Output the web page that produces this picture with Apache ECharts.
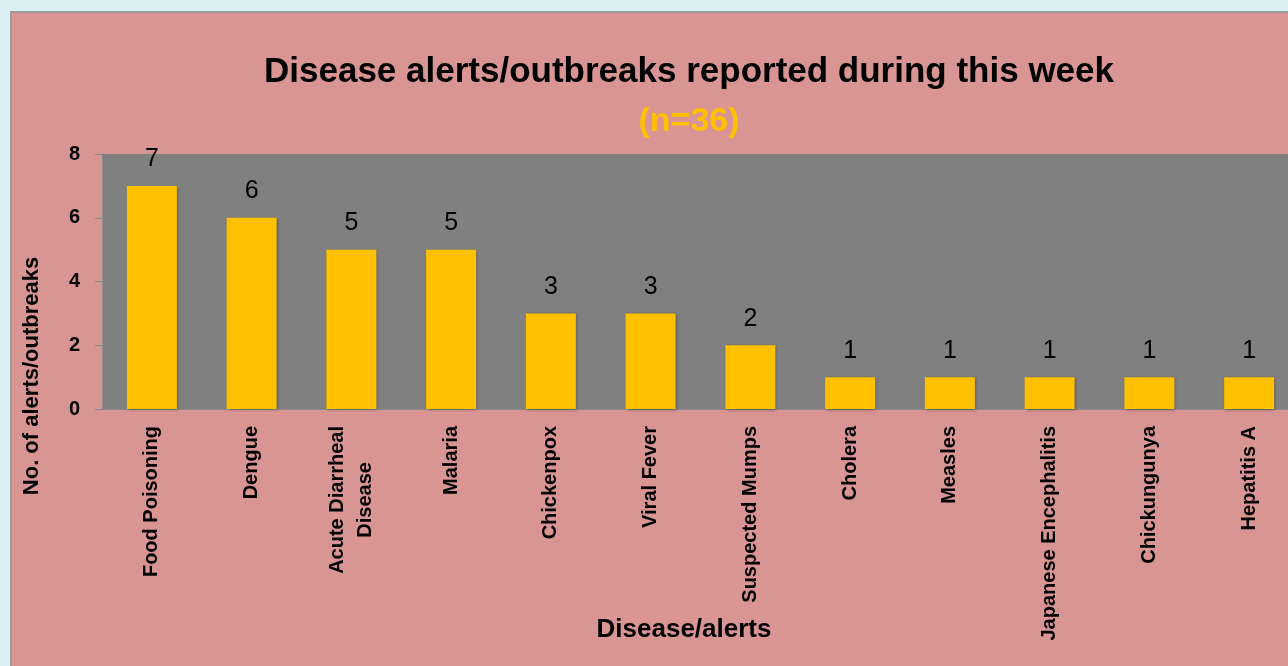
<!DOCTYPE html>
<html>
<head>
<meta charset="utf-8">
<script src="https://cdn.jsdelivr.net/npm/echarts@6/dist/echarts.min.js"></script>
<style>
  html, body {
    margin: 0;
    padding: 0;
    width: 1288px;
    height: 666px;
    overflow: hidden;
    background: #DAEEF3;
  }
  /* pink panel, cut off at the right and bottom like the original */
  #chart {
    position: absolute;
    left: 10px;
    top: 11px;
    width: 1276px;
    height: 653px;
    border-left: 2px solid #9c9c9c;
    border-top: 2px solid #9c9c9c;
    background: #D99594;
  }
</style>
</head>
<body>
<div id="chart"></div>
<script>
// 疾病类别
const diseases = [
  'Food Poisoning', 'Dengue', 'Acute Diarrheal\nDisease', 'Malaria',
  'Chickenpox', 'Viral Fever', 'Suspected Mumps', 'Cholera',
  'Measles', 'Japanese Encephalitis', 'Chickungunya', 'Hepatitis A'
]
// 每类的预警/暴发数
const alertCounts = [7, 6, 5, 5, 3, 3, 2, 1, 1, 1, 1, 1]
// y 轴刻度
const yTicks = [0, 2, 4, 6, 8]

const font = 'Liberation Sans, Arial, sans-serif'
const chart = echarts.init(document.getElementById('chart'), null, { renderer: 'canvas' })

// 两行标签：第二行居中
const labelFormatter = (val) => {
  const parts = val.split('\n')
  if (parts.length < 2) return val
  return parts.map((p, i) => `{${i === 0 ? 'a' : 'b'}|${p}}`).join('\n')
}

chart.setOption({
  backgroundColor: 'transparent',
  animation: false,
  grid: {
    left: 90,
    top: 141,
    width: 1197,
    bottom: 257,
    outerBoundsMode: 'none',
    containLabel: false,
    show: true,
    backgroundColor: '#808080',
    borderWidth: 0
  },
  xAxis: {
    type: 'category',
    data: diseases,
    axisLine: { show: true, lineStyle: { color: '#8a8a8a', width: 1 } },
    axisTick: { show: false },
    axisLabel: {
      rotate: 90,
      interval: 0,
      margin: 17,
      color: '#000',
      fontFamily: font,
      fontWeight: 'bold',
      fontSize: 20,
      lineHeight: 28,
      formatter: labelFormatter,
      rich: {
        a: { fontFamily: font, fontWeight: 'bold', fontSize: 20, lineHeight: 28, color: '#000' },
        b: { fontFamily: font, fontWeight: 'bold', fontSize: 20, lineHeight: 28, color: '#000', align: 'center' }
      }
    }
  },
  yAxis: {
    type: 'value',
    min: yTicks[0],
    max: yTicks[yTicks.length - 1],
    interval: 2,
    splitLine: { show: false },
    axisLine: { show: true, lineStyle: { color: '#8a8a8a' } },
    axisTick: { show: true, length: 7, lineStyle: { color: '#8a8a8a' } },
    axisLabel: {
      margin: 22,
      color: '#000',
      fontFamily: font,
      fontWeight: 'bold',
      fontSize: 20
    }
  },
  series: [
    {
      type: 'bar',
      data: alertCounts,
      barWidth: 50,
      itemStyle: {
        color: '#FFC000',
        shadowColor: 'rgba(0,0,0,0.35)',
        shadowBlur: 3,
        shadowOffsetX: 1,
        shadowOffsetY: 1
      },
      label: {
        show: true,
        position: 'top',
        distance: 14,
        color: '#000',
        fontFamily: font,
        fontSize: 25
      }
    }
  ],
  graphic: [
    {
      type: 'text',
      x: 677, y: 59,
      style: {
        text: 'Disease alerts/outbreaks reported during this week',
        fill: '#000',
        font: 'bold 35px ' + font,
        textAlign: 'center',
        textVerticalAlign: 'middle'
      }
    },
    {
      type: 'text',
      x: 677, y: 109,
      style: {
        text: '(n=36)',
        fill: '#FFC000',
        font: 'bold 34px ' + font,
        textAlign: 'center',
        textVerticalAlign: 'middle'
      }
    },
    {
      type: 'text',
      x: 20, y: 363,
      rotation: Math.PI / 2,
      style: {
        text: 'No. of alerts/outbreaks',
        fill: '#000',
        font: 'bold 22px ' + font,
        textAlign: 'center',
        textVerticalAlign: 'middle'
      }
    },
    {
      type: 'text',
      x: 672, y: 617,
      style: {
        text: 'Disease/alerts',
        fill: '#000',
        font: 'bold 26px ' + font,
        textAlign: 'center',
        textVerticalAlign: 'middle'
      }
    }
  ]
})
</script>
</body>
</html>
